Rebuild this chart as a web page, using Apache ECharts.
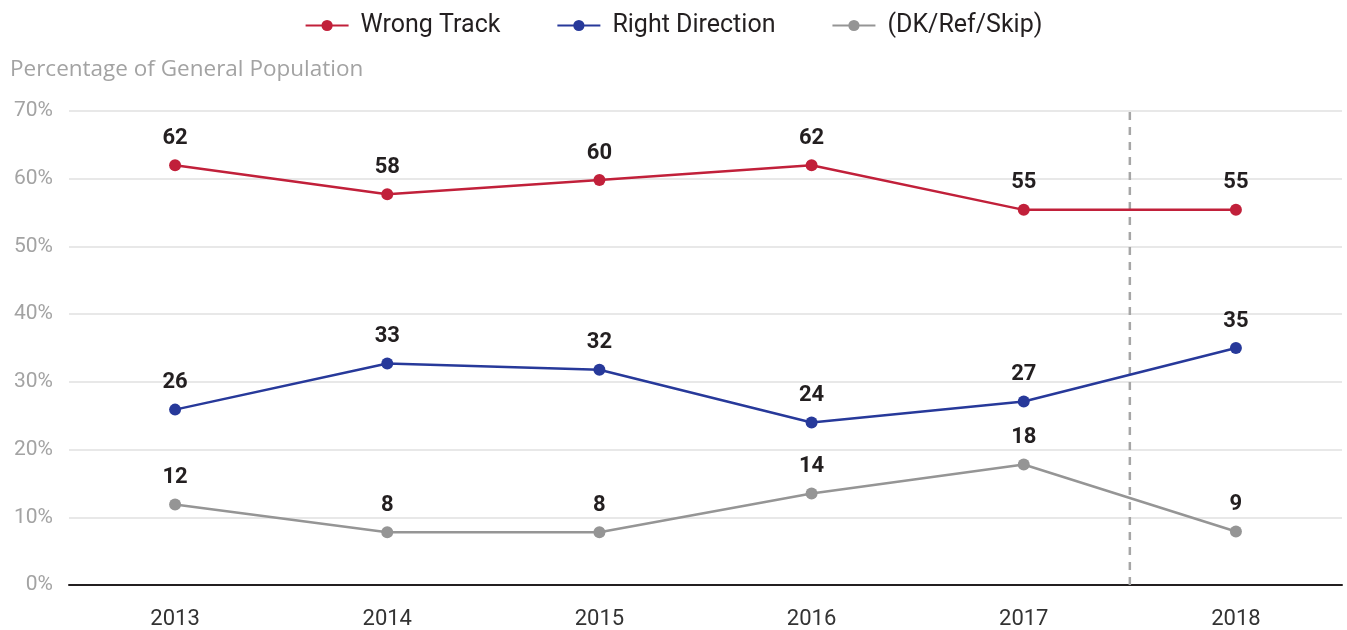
<!DOCTYPE html>
<html>
<head>
<meta charset="utf-8">
<script src="https://cdn.jsdelivr.net/npm/echarts@6/dist/echarts.min.js"></script>
<style>
  html, body { margin: 0; padding: 0; background: #fff; }
  #chart { width: 1347px; height: 630px; }
</style>
</head>
<body>
<div id="chart"></div>
<script>
const years = ['2013', '2014', '2015', '2016', '2017', '2018'];
const wrongTrack = [62, 57.7, 59.8, 62, 55.4, 55.4];
const rightDirection = [25.9, 32.7, 31.8, 24, 27.1, 35];
const dkRefSkip = [11.9, 7.8, 7.8, 13.5, 17.8, 7.9];
// labels as printed on the chart
const wrongLabels = ['62', '58', '60', '62', '55', '55'];
const rightLabels = ['26', '33', '32', '24', '27', '35'];
const dkLabels = ['12', '8', '8', '14', '18', '9'];
const dividerAt = 4.5; // between 2017 and 2018
const yTicks = { min: 0, max: 70, interval: 10 };

const chart = echarts.init(document.getElementById('chart'));
const font = 'Roboto, "Liberation Sans", sans-serif';

const lineSeries = (name, values, labels, color) => ({
  name,
  type: 'line',
  data: values,
  symbol: 'circle',
  symbolSize: 12,
  lineStyle: { color, width: 2.5 },
  itemStyle: { color },
  label: {
    show: true,
    position: 'top',
    distance: 10,
    fontFamily: font,
    fontSize: 22,
    fontWeight: 'bold',
    color: '#231f20',
    formatter: p => labels[p.dataIndex]
  },
  z: 3
});

const option = {
  backgroundColor: '#fff',
  animation: false,
  title: {
    text: 'Percentage of General Population',
    left: 10,
    top: 58,
    padding: 0,
    textStyle: { fontFamily: '"Open Sans", sans-serif', fontSize: 22.5, fontWeight: 'normal', color: '#a3a3a3' }
  },
  legend: {
    top: 8,
    left: 'center',
    itemWidth: 43,
    itemHeight: 14,
    itemGap: 56,
    textStyle: { fontFamily: font, fontSize: 25, color: '#231f20', padding: [0, 0, 0, 7] },
    data: ['Wrong Track', 'Right Direction', '(DK/Ref/Skip)']
  },
  grid: { left: 69, right: 5, top: 111, bottom: 44 },
  xAxis: [
    {
      type: 'category',
      data: years,
      boundaryGap: true,
      axisLine: { lineStyle: { color: '#231f20', width: 2 } },
      axisTick: { alignWithLabel: true, length: 15, lineStyle: { color: '#d9d9d9', width: 3 } },
      axisLabel: { fontFamily: font, fontSize: 22, color: '#333', margin: 23 }
    },
    {
      type: 'value',
      min: -0.5,
      max: 5.5,
      show: false
    }
  ],
  yAxis: {
    type: 'value',
    min: yTicks.min,
    max: yTicks.max,
    interval: yTicks.interval,
    axisLine: { show: false },
    axisTick: { show: false },
    axisLabel: { fontFamily: font, fontSize: 21, color: '#a3a3a3', margin: 16, formatter: '{value}%' },
    splitLine: { lineStyle: { color: '#e0e0e0', width: 1.5 } }
  },
  series: [
    {
      name: 'divider',
      type: 'line',
      xAxisIndex: 1,
      data: [[dividerAt, yTicks.min], [dividerAt, yTicks.max]],
      symbol: 'none',
      lineStyle: { color: '#a6a6a6', width: 2.5, type: [8, 7] },
      silent: true,
      z: 1
    },
    lineSeries('Wrong Track', wrongTrack, wrongLabels, '#c1203a'),
    lineSeries('Right Direction', rightDirection, rightLabels, '#27399a'),
    lineSeries('(DK/Ref/Skip)', dkRefSkip, dkLabels, '#959595')
  ]
};

chart.setOption(option);
window.addEventListener('resize', () => chart.resize());
</script>
</body>
</html>
